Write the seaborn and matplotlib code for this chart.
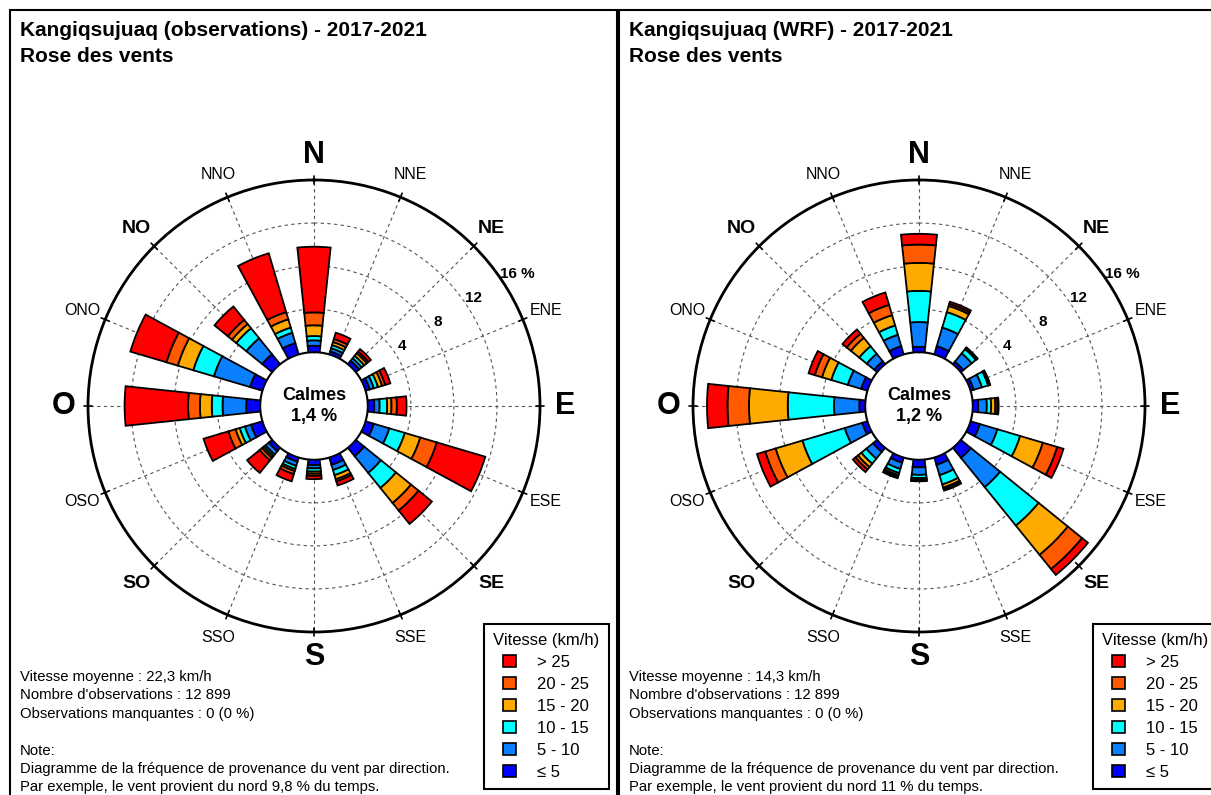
# Rose des vents - Kangiqsujuaq, observations vs WRF
import numpy as np
import pandas as pd
import seaborn as sns
import matplotlib.pyplot as plt
from matplotlib.patches import Patch, Rectangle

directions = ['N', 'NNE', 'NE', 'ENE', 'E', 'ESE', 'SE', 'SSE',
              'S', 'SSO', 'SO', 'OSO', 'O', 'ONO', 'NO', 'NNO']
vitesses = ['≤ 5', '5 - 10', '10 - 15', '15 - 20', '20 - 25', '> 25']
couleurs = ['#0000FF', '#0A80FF', '#00FFFF', '#FFAA00', '#FF5A00', '#FF0000']

# observations (% du temps, par classe de vitesse)
obs_0_5   = [0.6, 0.3, 0.4, 0.4, 0.6, 0.8, 1.0, 0.7, 0.5, 0.4, 0.4, 1.1, 1.3, 1.2, 1.2, 1.1]
obs_5_10  = [0.5, 0.3, 0.3, 0.4, 0.5, 1.5, 2.0, 0.5, 0.3, 0.4, 0.4, 0.6, 2.2, 3.5, 1.9, 1.0]
obs_10_15 = [0.4, 0.3, 0.3, 0.4, 0.7, 1.5, 1.8, 0.5, 0.3, 0.3, 0.2, 0.5, 1.0, 2.0, 1.2, 0.5]
obs_15_20 = [1.0, 0.3, 0.3, 0.4, 0.4, 1.5, 1.8, 0.4, 0.2, 0.2, 0.2, 0.4, 1.1, 1.5, 0.5, 0.8]
obs_20_25 = [1.2, 0.3, 0.2, 0.3, 0.5, 1.6, 0.9, 0.2, 0.2, 0.3, 0.3, 0.7, 1.1, 1.1, 0.5, 0.7]
obs_25    = [6.1, 0.6, 0.3, 0.5, 0.9, 4.7, 1.6, 0.4, 0.3, 0.7, 1.5, 2.4, 5.9, 3.5, 1.6, 5.7]
obs_calme = '1,4 %'

# WRF
wrf_0_5   = [0.5, 0.8, 0.3, 0.3, 0.5, 0.9, 1.2, 0.7, 0.7, 0.5, 0.5, 0.5, 0.55, 0.6, 0.35, 0.8]
wrf_5_10  = [2.3, 1.8, 1.0, 0.8, 0.8, 1.7, 3.5, 1.0, 0.7, 0.6, 0.8, 1.7, 2.35, 1.3, 0.9, 1.1]
wrf_10_15 = [2.9, 1.5, 0.5, 0.6, 0.4, 2.2, 4.6, 0.9, 0.3, 0.4, 0.6, 4.1, 4.3, 1.6, 0.9, 0.9]
wrf_15_20 = [2.6, 0.6, 0.1, 0.1, 0.4, 2.2, 3.5, 0.3, 0.15, 0.2, 0.4, 2.6, 3.6, 0.9, 1.0, 1.0]
wrf_20_25 = [1.7, 0.2, 0.05, 0.05, 0.2, 1.4, 1.7, 0.15, 0.1, 0.15, 0.3, 1.0, 2.0, 0.7, 0.5, 1.0]
wrf_25    = [1.0, 0.2, 0.05, 0.05, 0.1, 0.6, 0.7, 0.15, 0.05, 0.15, 0.3, 0.8, 1.9, 0.6, 0.5, 1.2]
wrf_calme = '1,2 %'

sns.set_theme(style="white")
plt.rcParams['font.family'] = ['Liberation Sans', 'DejaVu Sans']
plt.rcParams['text.color'] = 'black'

W, H = 1211, 795
fig = plt.figure(figsize=(W / 100, H / 100), dpi=100)


def fx(x):
    return x / W


def fy(y):
    return 1 - y / H


def rose(cx, classes, calme, titre, vmoy, nord, x0):
    df = pd.DataFrame({
        'direction': directions * len(vitesses),
        'classe': np.repeat(vitesses, len(directions)),
        'pct': np.concatenate(classes),
    })
    df['base'] = df.groupby('direction', sort=False)['pct'].cumsum() - df['pct']
    df['theta'] = np.deg2rad(df['direction'].map({d: i * 22.5 for i, d in enumerate(directions)}))

    ax = fig.add_axes([fx(cx - 226), fy(406 + 226), fx(452), 452 / H], projection='polar')
    ax.set_theta_zero_location('N')
    ax.set_theta_direction(-1)
    ax.set_rorigin(-5.0)
    ax.set_ylim(0, 16)
    ax.set_axisbelow(True)

    for classe, c in zip(vitesses, couleurs):
        d = df[df['classe'] == classe]
        ax.bar(d['theta'], d['pct'], bottom=d['base'], width=np.deg2rad(12),
               color=c, edgecolor='black', linewidth=1.3, zorder=3)

    ax.set_rgrids([4, 8, 12], labels=['', '', ''])
    ax.set_thetagrids(np.arange(0, 360, 22.5), labels=[''] * 16)
    ax.grid(True, color='#555555', linestyle=(0, (3, 3)), linewidth=0.8)
    ax.spines['polar'].set_linewidth(2)
    ax.spines['polar'].set_color('black')
    ax.spines['inner'].set_linewidth(1.5)
    ax.spines['inner'].set_color('black')
    ax.tick_params(length=0)

    # petites marques sur le cercle extérieur + étiquettes
    for i, d in enumerate(directions):
        th = np.deg2rad(i * 22.5)
        ax.plot([th, th], [15.6, 16.4], color='black', lw=1.2, clip_on=False, zorder=4)
        if len(d) == 1:
            kw = dict(fontsize=22, fontweight='bold')
        elif len(d) == 2:
            kw = dict(fontsize=14, fontweight='bold')
        else:
            kw = dict(fontsize=11.5)
        ax.text(th, 18.3, d, ha='center', va='center', clip_on=False, **kw)

    for v in [4, 8, 12]:
        ax.text(np.deg2rad(56), v + 0.9, str(v), ha='center', va='center',
                fontsize=11, fontweight='bold')
    ax.text(np.deg2rad(57), 17.5, '16 %', ha='center', va='center',
            fontsize=11, fontweight='bold', clip_on=False)

    ax.text(0.5, 0.5, 'Calmes\n' + calme, transform=ax.transAxes, ha='center',
            va='center', fontsize=13, fontweight='bold', linespacing=1.3)

    # titres
    fig.text(fx(x0 + 10), fy(30), titre, fontsize=15, fontweight='bold', va='center')
    fig.text(fx(x0 + 10), fy(56), 'Rose des vents', fontsize=15, fontweight='bold', va='center')

    # texte du bas
    lignes = ['Vitesse moyenne : ' + vmoy,
              "Nombre d'observations : 12 899",
              'Observations manquantes : 0 (0 %)',
              'Note:',
              'Diagramme de la fréquence de provenance du vent par direction.',
              'Par exemple, le vent provient du nord ' + nord + ' % du temps.']
    for y, t in zip([681, 699, 718, 755, 773, 791], lignes):
        fig.text(fx(x0 + 10), fy(y), t, fontsize=10.7, va='baseline')

    # légende
    handles = [Patch(facecolor=c, edgecolor='black', linewidth=1.2) for c in couleurs[::-1]]
    leg = fig.legend(handles, vitesses[::-1], loc='upper left',
                     bbox_to_anchor=(fx(x0 + 474), fy(624)), bbox_transform=fig.transFigure,
                     title='Vitesse (km/h)', fontsize=12, title_fontsize=12,
                     frameon=True, fancybox=False, edgecolor='black', framealpha=1,
                     handlelength=0.75, handleheight=0.75, handletextpad=1.3,
                     labelspacing=0.42, borderpad=0.55, borderaxespad=0)
    leg.get_frame().set_linewidth(1.5)

    # cadre du panneau
    fig.add_artist(Rectangle((fx(x0), fy(810)), fx(607), 800 / H, fill=False,
                             edgecolor='black', linewidth=1.5, transform=fig.transFigure))


rose(314, [obs_0_5, obs_5_10, obs_10_15, obs_15_20, obs_20_25, obs_25], obs_calme,
     'Kangiqsujuaq (observations) - 2017-2021', '22,3 km/h', '9,8', 10)
rose(919, [wrf_0_5, wrf_5_10, wrf_10_15, wrf_15_20, wrf_20_25, wrf_25], wrf_calme,
     'Kangiqsujuaq (WRF) - 2017-2021', '14,3 km/h', '11', 619)

fig.savefig('out.png', dpi=100)
